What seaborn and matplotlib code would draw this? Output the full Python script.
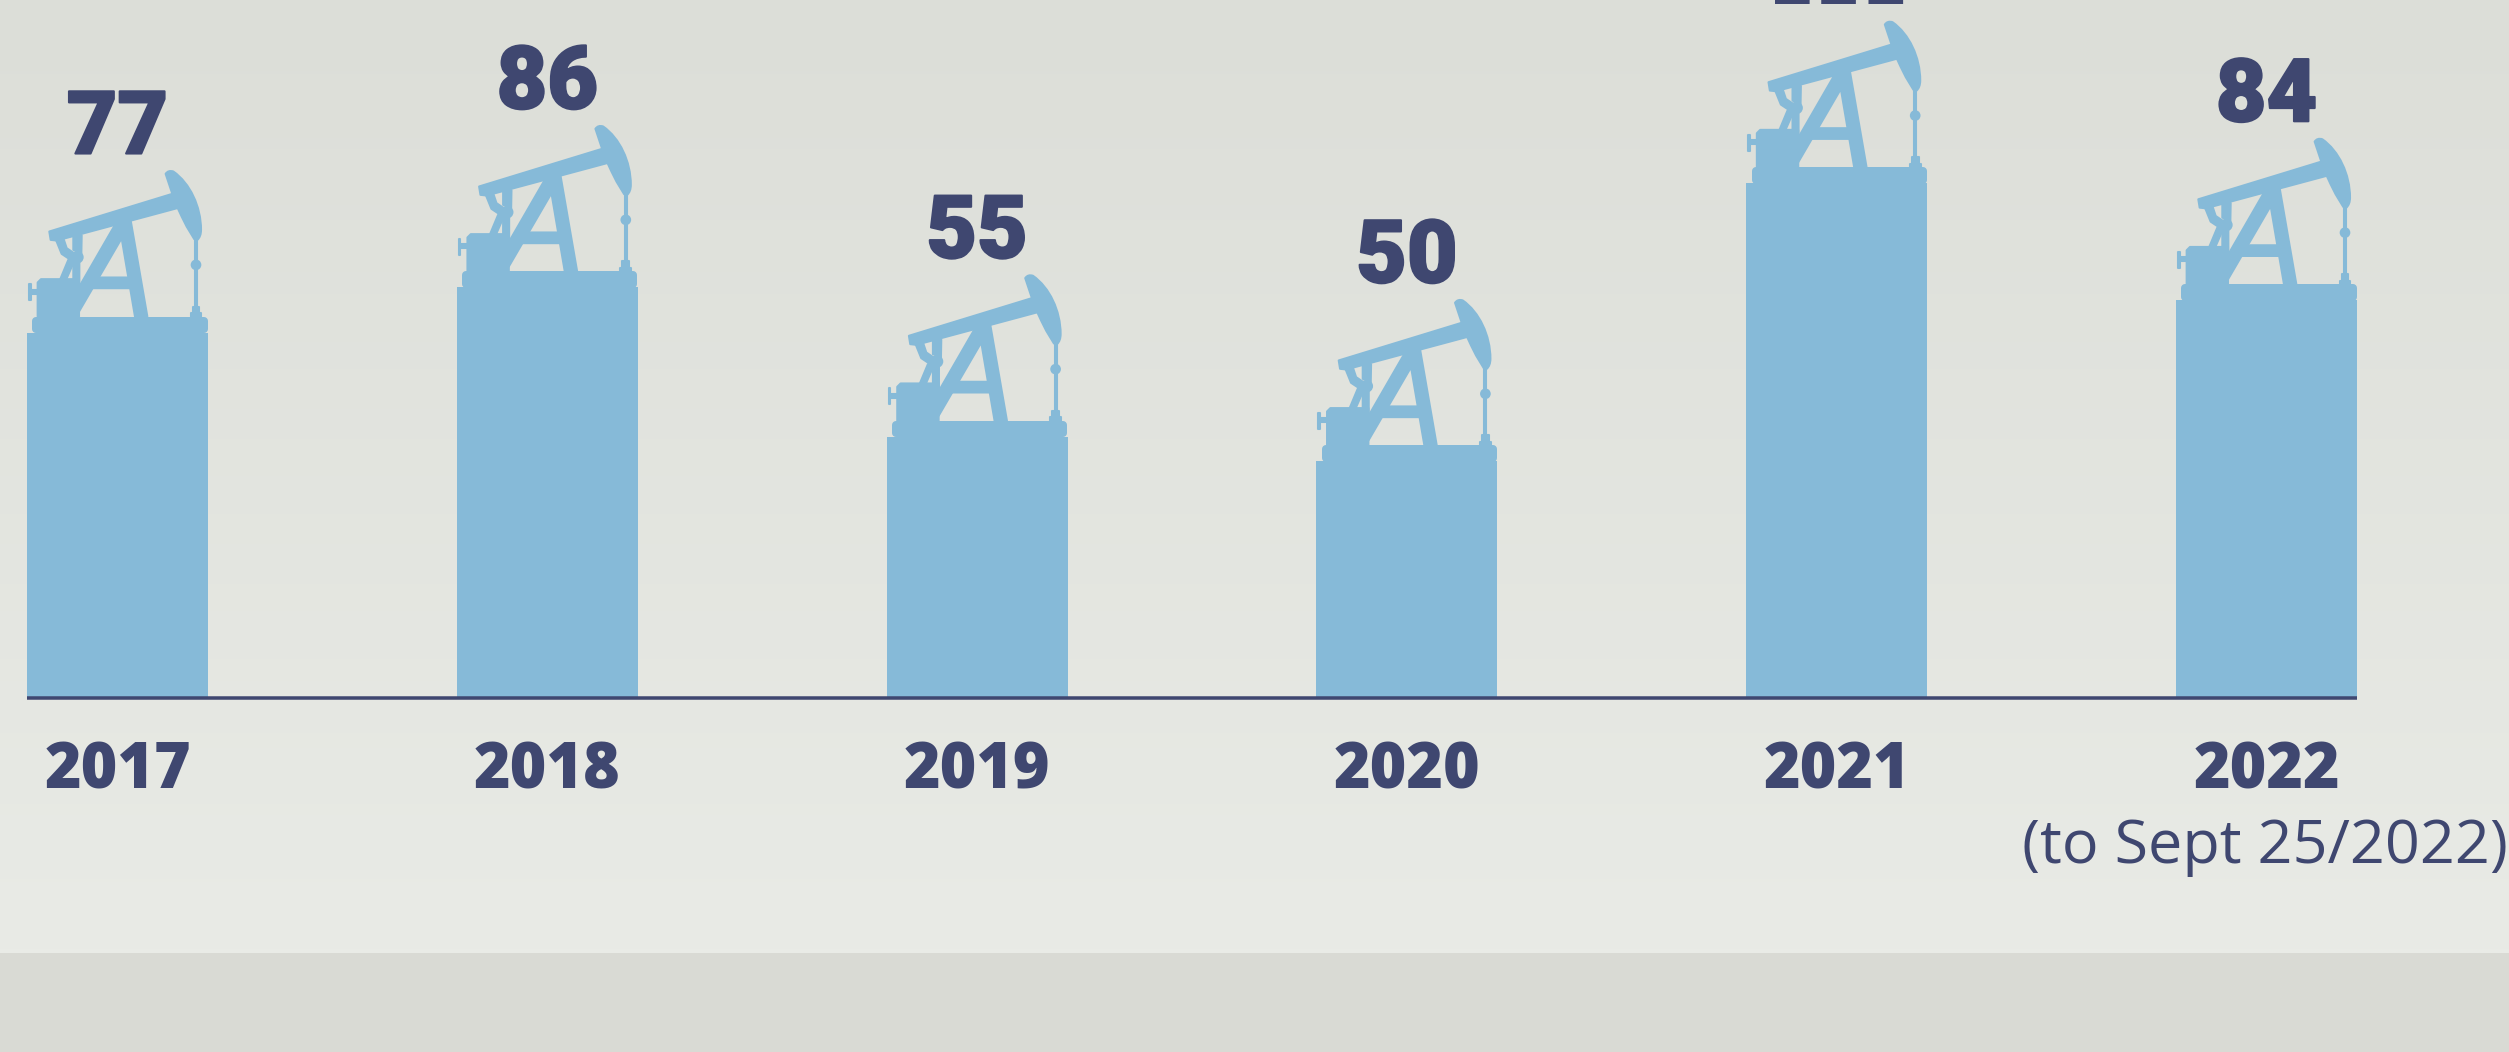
import numpy as np
import matplotlib
matplotlib.use("Agg")
import matplotlib.pyplot as plt
import seaborn as sns
from matplotlib.patches import Polygon, Circle, PathPatch
from matplotlib.path import Path
from matplotlib.transforms import Affine2D
import matplotlib.patheffects as pe

years = ["2017", "2018", "2019", "2020", "2021", "2022"]
bar_heights = [77, 86.5, 55, 49.8, 108.5, 83.8]
value_labels = ["77", "86", "55", "50", "111", "84"]
note_2022 = "(to Sept 25/2022)"

NAVY = "#3f4770"
BLUE = "#86bad8"
BAND = "#d9dad4"
W, H = 2509, 1052
BASE_Y = 697.5
BAND_Y = 953
PX_X = 429.8
PX_Y = 4.74
PT = 0.72

fig = plt.figure(figsize=(W / 100, H / 100), dpi=100)
bg = fig.add_axes([0, 0, 1, 1], zorder=0)
grad = np.linspace(0, 1, 256).reshape(-1, 1, 1)
c0 = np.array([0xdc, 0xde, 0xd8]) / 255
c1 = np.array([0xe9, 0xeb, 0xe6]) / 255
bg.imshow(c0 + grad * (c1 - c0), extent=(0, W, BAND_Y, 0), aspect="auto")
bg.axhspan(BAND_Y, H, color=BAND, lw=0)
bg.set_xlim(0, W)
bg.set_ylim(H, 0)
bg.axis("off")

ax = fig.add_axes([0, (H - BASE_Y) / H, 1, BASE_Y / H], zorder=1)
ax.patch.set_alpha(0)
sns.barplot(x=years, y=bar_heights, color=BLUE, saturation=1, width=181 / PX_X,
            linewidth=0, ax=ax)
ax.set_xlim(-117.5 / PX_X, (W - 117.5) / PX_X)
ax.set_ylim(0, BASE_Y / PX_Y)
ax.set_yticks([])
ax.set_xlabel("")
ax.set_ylabel("")
for s in ax.spines.values():
    s.set_visible(False)
ax.tick_params(axis="x", length=0, pad=42 * PT, labelcolor=NAVY)
for t in ax.get_xticklabels():
    t.set_fontfamily("Open Sans")
    t.set_fontweight(800)
    t.set_fontsize(45)

bars = sorted(ax.patches, key=lambda b: b.get_x())
ax.hlines(0, bars[0].get_x(), bars[-1].get_x() + bars[-1].get_width(),
          color=NAVY, lw=3.5 * PT, clip_on=False, zorder=5)

# pump-jack icon: outline in a local drawing space, anchored on each bar's top-left
ICON_POLYS = [
    [(113, 698), (123, 688), (237, 688), (237, 800), (113, 800)],
    [(95, 719), (113, 719), (113, 731), (95, 731)],
    [(87, 702), (92, 702), (92, 750), (87, 750)],
    [(148, 545), (517, 432), (535, 474), (170, 572), (152, 570)],
    [(345, 525), (392, 512), (442, 800), (405, 800), (365, 565), (237, 785), (237, 712)],
    [(285, 683), (385, 683), (391, 715), (268, 715)],
    [(585, 565), (591, 565), (591, 770), (585, 770)],
    [(578, 770), (598, 770), (598, 790), (578, 790)],
    [(572, 790), (604, 790), (604, 802), (572, 802)],
    [(205, 630), (222, 635), (198, 690), (180, 690)],
    [(220, 635), (238, 635), (238, 720), (220, 692)],
    [(220, 560), (245, 556), (244, 610), (220, 600)],
    [(168, 570), (190, 565), (200, 595), (222, 610), (215, 632), (185, 612)],
]
BASE_PLATE = [(109, 812), (611, 812), (611, 838), (109, 838)]
ICON_CIRCLES = [(588, 645, 16), (232, 622, 19)]
HEAD = Path(
    [(497, 372), (505, 360), (520, 365), (570, 400), (603, 470), (603, 540),
     (603, 560), (592, 570), (583, 568), (560, 530), (545, 500), (533, 474),
     (517, 432), (497, 372)],
    [Path.MOVETO, Path.CURVE3, Path.CURVE3, Path.CURVE4, Path.CURVE4, Path.CURVE4,
     Path.CURVE3, Path.CURVE3, Path.LINETO, Path.LINETO, Path.LINETO, Path.LINETO,
     Path.LINETO, Path.CLOSEPOLY],
)

for bar in bars:
    px = ax.transData.transform((bar.get_x(), bar.get_height()))
    tr = Affine2D().translate(-81, -848).scale(1 / 3, -1 / 3).translate(*px)
    style = dict(fc=BLUE, ec=BLUE, lw=1.5, joinstyle="round", transform=tr,
                 clip_on=False, zorder=3)
    for poly in ICON_POLYS:
        ax.add_patch(Polygon(poly, closed=True, **style))
    ax.add_patch(Polygon(BASE_PLATE, closed=True, fc=BLUE, ec=BLUE, lw=8 * PT,
                         joinstyle="round", transform=tr, clip_on=False, zorder=3))
    for cx, cy, r in ICON_CIRCLES:
        ax.add_patch(Circle((cx, cy), r, fc=BLUE, ec="none", transform=tr,
                            clip_on=False, zorder=3))
    ax.add_patch(PathPatch(HEAD, **style))

for bar, lab in zip(bars, value_labels):
    cx = bar.get_x() + bar.get_width() / 2
    flat = lab == "111"
    txt = ax.annotate(lab, (cx, bar.get_height()), xytext=(0, 179 * PT),
                      textcoords="offset points", ha="center", va="baseline",
                      annotation_clip=False, color=NAVY, zorder=6,
                      family="DejaVu Sans" if flat else "Roboto",
                      fontweight="bold" if flat else "black",
                      fontsize=49 if flat else 63)
    if not flat:
        txt.set_path_effects([pe.withStroke(linewidth=1.5, foreground=NAVY)])

ax.annotate(note_2022, (bars[-1].get_x() + bars[-1].get_width() / 2, 0),
            xytext=(-1, -165.5 * PT), textcoords="offset points", ha="center",
            va="baseline", annotation_clip=False, color=NAVY, family="Open Sans",
            fontweight="normal", fontsize=44, zorder=6)

fig.savefig("out.png", dpi=100)
